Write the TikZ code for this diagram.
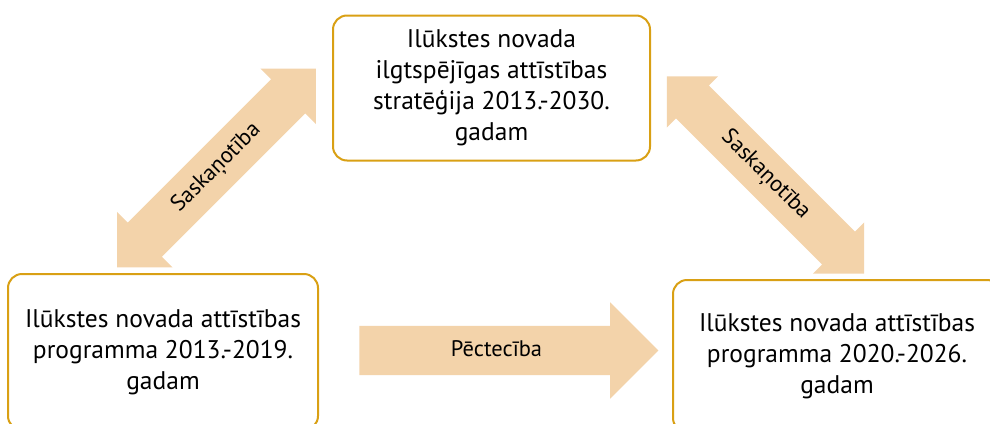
\documentclass[tikz,border=0pt]{standalone}
\usepackage{fontspec}
\setmainfont{PT Sans}
\usetikzlibrary{shapes.arrows}
\definecolor{boxgold}{RGB}{217,160,20}
\definecolor{arrowpeach}{RGB}{243,211,170}
\tikzset{
  docbox/.style={draw=boxgold, line width=2pt, rounded corners=14pt, fill=white,
    align=center, inner sep=0pt, font=\fontsize{25.5}{31}\selectfont},
  flowarrow/.style={single arrow, fill=arrowpeach, inner xsep=0pt,
    text height=15pt, text depth=4pt, inner ysep=15pt,
    single arrow head extend=23.5pt, font=\fontsize{22.5}{26}\selectfont},
  linkarrow/.style={double arrow, fill=arrowpeach, inner xsep=0pt,
    text height=15pt, text depth=4pt, inner ysep=14.5pt,
    double arrow head extend=15pt, font=\fontsize{22.5}{26}\selectfont}
}
\begin{document}
\begin{tikzpicture}[x=1pt,y=-1pt]
  \useasboundingbox (0,0) rectangle (990,423);
  \clip (0,0) rectangle (990,423);
  % documents
  \node[docbox, minimum width=317pt, minimum height=145pt] (strategy) at (491.5,88)
    {Ilūkstes novada\\ilgtspējīgas attīstības\\stratēģija 2013.-2030.\\gadam};
  \node[docbox, minimum width=310pt, minimum height=156pt] (oldprog) at (163,352)
    {Ilūkstes novada attīstības\\programma 2013.-2019.\\gadam};
  \node[docbox, minimum width=328pt, minimum height=152pt] (newprog) at (837,356)
    {Ilūkstes novada attīstības\\programma 2020.-2026.\\gadam};
  % links
  \node[flowarrow, minimum height=299pt] (succession) at (496.5,350.5) {Pēctecība};
  \node[linkarrow, minimum height=281pt, rotate=45] (leftlink) at (216.5,168) {Saskaņotība};
  \node[linkarrow, minimum height=279pt, rotate=-45, inner ysep=13.5pt,
    double arrow head extend=13pt] (rightlink) at (765.5,175) {Saskaņotība};
\end{tikzpicture}
\end{document}
